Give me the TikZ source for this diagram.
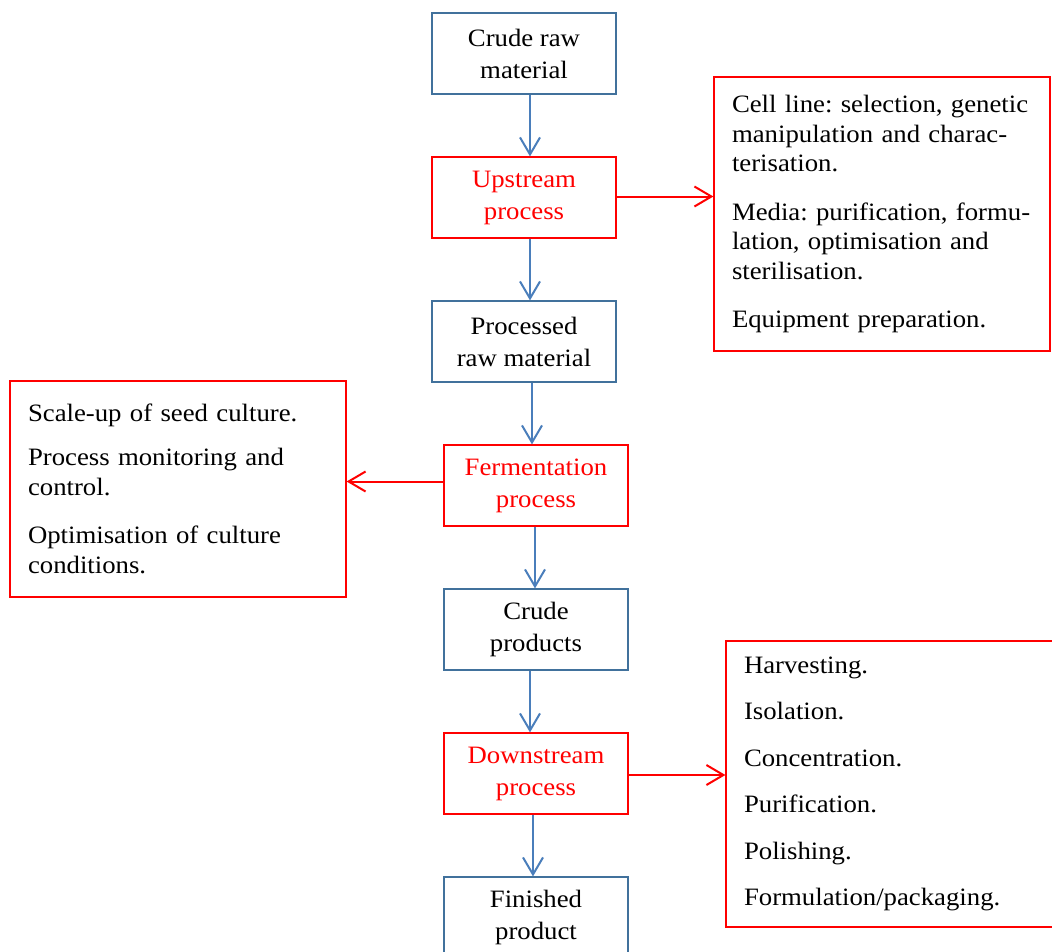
\documentclass[tikz,border=0pt]{standalone}
\usepackage{fontspec}
\setmainfont[FakeStretch=1.07]{Liberation Serif}
\frenchspacing
\usetikzlibrary{arrows.meta}
\definecolor{boxblue}{HTML}{41719C}
\definecolor{lineblue}{HTML}{4A7EBB}
\begin{document}
\begin{tikzpicture}[x=1pt, y=-1pt,
        stage/.style={rectangle, draw=boxblue, line width=1.2pt,
          minimum width=184pt, minimum height=81pt, inner sep=0pt,
          align=center, font=\fontsize{25}{32}\selectfont},
        process/.style={stage, draw=red, text=red},
        detail/.style={rectangle, draw=red, line width=1.2pt,
          minimum width=336pt, text width=300pt, inner xsep=18pt,
          align=left, font=\fontsize{25}{29.5}\selectfont},
        flow/.style={-{Straight Barb[length=17pt,width=20pt]}, draw=lineblue, line width=2pt},
        branch/.style={flow, draw=red}
      ]
      \useasboundingbox (0,0) rectangle (1052,951);

      \node[stage] (raw) at (524,53.5) {Crude raw\\material};
      \node[process] (up) at (524,197.5) {Upstream\\process};
      \node[stage] (proc) at (524,341.5) {Processed\\raw material};
      \node[process] (ferm) at (536,485.5) {Fermentation\\process};
      \node[stage] (crude) at (536,629.5) {Crude\\products};
      \node[process] (down) at (536,773.5) {Downstream\\process};
      \node[stage] (fin) at (536,917.5) {Finished\\product};

      \node[detail, minimum height=274pt] (cell) at (882,214) {Cell line: selection, genetic\\manipulation and charac-\\terisation.\\[19pt]Media: purification, formu-\\lation, optimisation and\\sterilisation.\\[19pt]Equipment preparation.};
      \node[detail, minimum height=216pt] (seed) at (178,489) {Scale-up of seed culture.\\[14.5pt]Process monitoring and\\control.\\[19pt]Optimisation of culture\\conditions.};
      \node[detail, minimum height=286pt] (harv) at (894,784) {Harvesting.\\[17pt]Isolation.\\[17pt]Concentration.\\[17pt]Purification.\\[17pt]Polishing.\\[17pt]Formulation/packaging.};

      \draw[flow] ([xshift=6pt]raw.south) -- ([xshift=6pt]up.north);
      \draw[flow] ([xshift=6pt]up.south) -- ([xshift=6pt]proc.north);
      \draw[flow] ([xshift=8pt]proc.south) -- ([xshift=-4pt]ferm.north);
      \draw[flow] ([xshift=-1pt]ferm.south) -- ([xshift=-1pt]crude.north);
      \draw[flow] ([xshift=-6pt]crude.south) -- ([xshift=-6pt]down.north);
      \draw[flow] ([xshift=-3pt]down.south) -- ([xshift=-3pt]fin.north);

      \draw[branch] ([yshift=1pt]up.east) -- ([yshift=1pt]up.east -| cell.west);
      \draw[branch] ([yshift=4pt]ferm.west) -- ([yshift=4pt]ferm.west -| seed.east);
      \draw[branch] ([yshift=-1.5pt]down.east) -- ([yshift=-1.5pt]down.east -| harv.west);
    \end{tikzpicture}
\end{document}
